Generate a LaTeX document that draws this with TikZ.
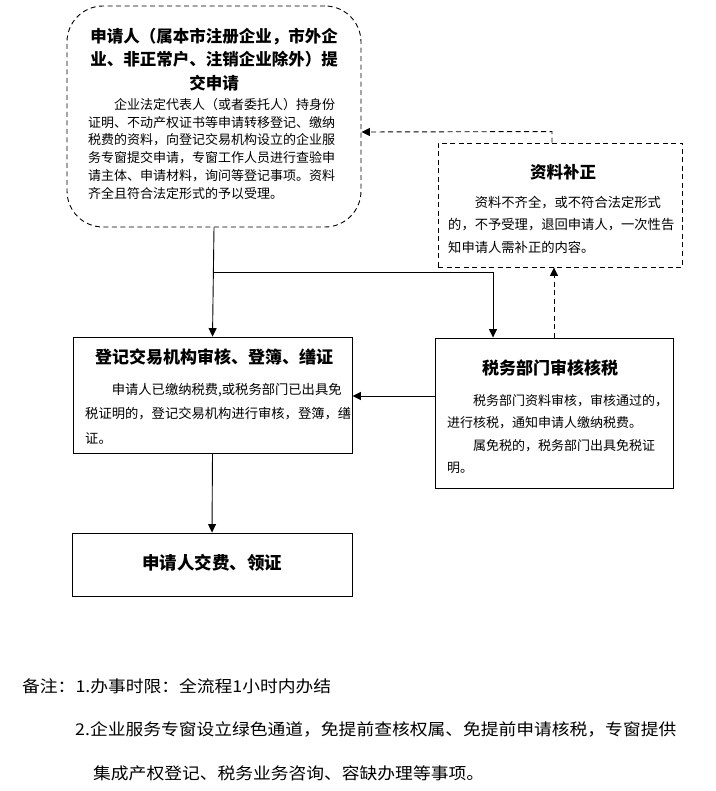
\documentclass[tikz,border=0pt]{standalone}
\usepackage{fontspec}
\setmainfont{Noto Sans CJK SC}
\newfontfamily\notefont[FakeStretch=1.09]{Noto Sans CJK SC}
\usetikzlibrary{arrows.meta}
\begin{document}
\begin{tikzpicture}[x=1pt,y=-1pt,
  boxline/.style={draw=black,line width=0.9pt},
  dashline/.style={draw=black,line width=0.9pt,dash pattern=on 5pt off 3.5pt},
  flow/.style={draw=black,line width=0.9pt,-{Triangle[length=8.5pt,width=8pt]}},
  dflow/.style={draw=black,line width=0.9pt,dash pattern=on 5pt off 3.5pt,-{Triangle[length=8.5pt,width=8pt]}},
  ttl/.style={inner sep=0pt,font={\fontsize{17}{23}\selectfont\bfseries}},
  bodytxt/.style={inner sep=0pt,align=left,anchor=north west}
]
\useasboundingbox (0,0) rectangle (715,791);
% boxes
\node[dashline,rounded corners=36pt,minimum width=294pt,minimum height=221pt,inner sep=0pt] (b1) at (214,116.5) {};
\node[dashline,minimum width=244pt,minimum height=124pt,inner sep=0pt] (b3) at (560,205) {};
\node[boxline,minimum width=279pt,minimum height=116pt,inner sep=0pt] (b2) at (212.5,395) {};
\node[boxline,minimum width=238pt,minimum height=150pt,inner sep=0pt] (b4) at (554,413) {};
\node[boxline,minimum width=280pt,minimum height=63pt,inner sep=0pt] (b5) at (212,564.5) {};

% box 1 text
\node[inner sep=0pt,anchor=north,align=center,font={\fontsize{16.5}{23.3}\selectfont\bfseries}] (t1) at (214,27.9)
  {申请人（属本市注册企业，市外企\\业、非正常户、注销企业除外）提\\交申请};
\node[bodytxt,font={\fontsize{13}{17.8}\selectfont}] (d1) at (88,98)
  {\hspace*{2em}企业法定代表人（或者委托人）持身份\\
   证明、不动产权证书等申请转移登记、缴纳\\
   税费的资料，向登记交易机构设立的企业服\\
   务专窗提交申请，专窗工作人员进行查验申\\
   请主体、申请材料，询问等登记事项。资料\\
   齐全且符合法定形式的予以受理。};

% box 3 text
\node[ttl,font={\fontsize{16.5}{23}\selectfont\bfseries}] (t3) at (563,172) {资料补正};
\node[bodytxt,font={\fontsize{13.3}{22.7}\selectfont}] (d3) at (448,195.6)
  {\hspace*{2em}资料不齐全，或不符合法定形式\\
   的，不予受理，退回申请人，一次性告\\
   知申请人需补正的内容。};

% box 2 text
\node[ttl] (t2) at (214,357) {登记交易机构审核、登簿、缮证};
\node[bodytxt,font={\fontsize{13.3}{24.5}\selectfont}] (d2) at (85,383)
  {\hspace*{2em}申请人已缴纳税费,或税务部门已出具免\\
   税证明的，登记交易机构进行审核，登簿，缮\\
   证。};

% box 4 text
\node[ttl] (t4) at (550,368) {税务部门审核核税};
\node[bodytxt,font={\fontsize{13}{22.4}\selectfont}] (d4) at (447,394)
  {\hspace*{2em}税务部门资料审核，审核通过的，\\
   进行核税，通知申请人缴纳税费。\\
   \hspace*{2em}属免税的，税务部门出具免税证\\
   明。};

% box 5 text
\node[ttl,font={\fontsize{17.5}{23}\selectfont\bfseries}] (t5) at (212,563) {申请人交费、领证};

% connectors
\coordinate (j1) at (b1.south |- 0,272);
\draw[flow] (b1.south) -- (b2.north);
\draw[flow] (j1) -- (493,272) -- ([xshift=-61pt]b4.north);
\draw[flow] (b4.west |- 0,396) -- (b2.east |- 0,396);
\draw[flow] (b2.south) -- (b5.north);
\draw[dflow] (b4.north) -- (b4.north |- b3.south);
\draw[dflow] ([xshift=-8pt]b3.north) -- ++(0,-11) -- (b1.east |- 0,132);

% notes
\node[inner sep=0pt,anchor=west,font={\notefont\fontsize{16.3}{20}\selectfont}] (n1) at (22,686) {备注：1.办事时限：全流程1小时内办结};
\node[inner sep=0pt,anchor=west,font={\notefont\fontsize{16.3}{20}\selectfont}] (n2) at (75,729) {2.企业服务专窗设立绿色通道，免提前查核权属、免提前申请核税，专窗提供};
\node[inner sep=0pt,anchor=west,font={\notefont\fontsize{16.3}{20}\selectfont}] (n3) at (93,773) {集成产权登记、税务业务咨询、容缺办理等事项。};
\end{tikzpicture}
\end{document}
